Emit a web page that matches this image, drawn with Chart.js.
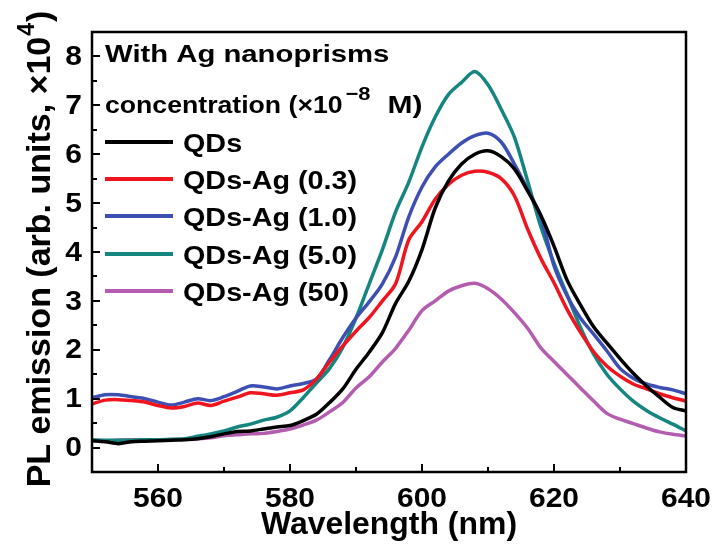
<!DOCTYPE html>
<html>
<head>
<meta charset="utf-8">
<title>PL emission vs wavelength</title>
<script src="https://cdn.jsdelivr.net/npm/chart.js@4/dist/chart.umd.min.js"></script>
<style>
  html, body { margin: 0; padding: 0; background: #fff; }
  #wrap { width: 714px; height: 544px; }
</style>
</head>
<body>
<div id="wrap"><canvas id="pl" width="714" height="544"></canvas></div>
<script>
(function () {
  'use strict';

  // wavelength grid (nm)
  var wavelengths = [550, 552, 554, 556, 558, 560, 562, 564, 566, 568, 570, 572, 574, 576, 578,
    580, 582, 584, 586, 588, 590, 592, 594, 596, 598, 600, 602, 604, 606, 608, 610, 612,
    614, 616, 618, 620, 622, 624, 626, 628, 630, 632, 634, 636, 638, 640];

  // PL emission (x10^4)
  var qdsOnly = [0.14, 0.12, 0.08, 0.12, 0.13, 0.14, 0.15, 0.16, 0.18, 0.22, 0.28, 0.33, 0.34, 0.38, 0.42,
    0.45, 0.55, 0.68, 0.92, 1.20, 1.60, 1.95, 2.35, 2.95, 3.40, 4.05, 4.90, 5.45, 5.80, 6.00, 6.07, 5.95,
    5.70, 5.25, 4.75, 4.12, 3.42, 2.92, 2.47, 2.14, 1.82, 1.52, 1.26, 1.03, 0.82, 0.75];
  var qdsAg03 = [0.89, 0.97, 0.98, 0.96, 0.93, 0.86, 0.81, 0.84, 0.91, 0.86, 0.95, 1.03, 1.12, 1.10, 1.07,
    1.12, 1.18, 1.40, 1.75, 2.08, 2.38, 2.66, 3.00, 3.35, 4.25, 4.62, 5.08, 5.38, 5.57, 5.65, 5.63, 5.50,
    5.15, 4.47, 3.87, 3.37, 2.82, 2.36, 1.96, 1.67, 1.46, 1.30, 1.20, 1.10, 1.02, 0.95];
  var qdsAg10 = [1.02, 1.08, 1.08, 1.04, 1.00, 0.93, 0.87, 0.93, 1.00, 0.96, 1.04, 1.15, 1.26, 1.24, 1.20,
    1.26, 1.31, 1.40, 1.80, 2.25, 2.65, 2.98, 3.35, 3.90, 4.72, 5.33, 5.74, 6.00, 6.23, 6.38, 6.43, 6.25,
    5.80, 5.28, 4.72, 3.72, 3.10, 2.65, 2.32, 1.98, 1.62, 1.42, 1.30, 1.23, 1.18, 1.10];
  var qdsAg50 = [0.16, 0.15, 0.15, 0.15, 0.16, 0.16, 0.17, 0.18, 0.23, 0.28, 0.34, 0.42, 0.48, 0.56, 0.62,
    0.75, 1.02, 1.32, 1.62, 2.05, 2.65, 3.35, 4.05, 4.82, 5.43, 6.15, 6.76, 7.22, 7.47, 7.69, 7.42, 6.92,
    6.35, 5.45, 4.52, 3.77, 3.12, 2.46, 1.91, 1.50, 1.20, 0.95, 0.76, 0.61, 0.48, 0.34];
  var qdsAg500 = [0.14, 0.14, 0.15, 0.16, 0.16, 0.15, 0.16, 0.17, 0.18, 0.20, 0.24, 0.26, 0.28, 0.29, 0.33,
    0.38, 0.46, 0.56, 0.73, 0.92, 1.22, 1.45, 1.75, 2.03, 2.40, 2.80, 3.00, 3.20, 3.31, 3.36, 3.25, 3.04,
    2.76, 2.44, 2.04, 1.76, 1.49, 1.22, 0.95, 0.70, 0.58, 0.49, 0.40, 0.32, 0.27, 0.24];

  var seriesLabels = ['QDs', 'QDs-Ag (0.3)', 'QDs-Ag (1.0)', 'QDs-Ag (5.0)', 'QDs-Ag (50)'];
  var seriesColors = ['#000000', '#f0141e', '#3d4fb2', '#15857f', '#b45caf'];

  var xTicks = [560, 580, 600, 620, 640];
  var xMinorTicks = [570, 590, 610, 630];
  var yTicks = [0, 1, 2, 3, 4, 5, 6, 7, 8];
  var yMinorTicks = [0.5, 1.5, 2.5, 3.5, 4.5, 5.5, 6.5, 7.5];

  var FONT = '"Liberation Sans", Arial, Helvetica, sans-serif';

  function toPoints(values) {
    return values.map(function (v, i) {
      return { x: wavelengths[i], y: v };
    });
  }

  // text drawn with a small horizontal stretch, like the original figure
  function drawText(ctx, text, x, y, align, size, sx) {
    ctx.save();
    ctx.font = 'bold ' + size + 'px ' + FONT;
    ctx.translate(x, y);
    ctx.scale(sx || 1, 1);
    ctx.textAlign = align || 'left';
    ctx.fillText(text, 0, 0);
    var w = ctx.measureText(text).width * (sx || 1);
    ctx.restore();
    return w;
  }

  function textWidth(ctx, text, size, sx) {
    ctx.save();
    ctx.font = 'bold ' + size + 'px ' + FONT;
    var w = ctx.measureText(text).width * (sx || 1);
    ctx.restore();
    return w;
  }

  var frameAndText = {
    id: 'frameAndText',
    afterDraw: function (chart) {
      var ctx = chart.ctx;
      var area = chart.chartArea;
      var xs = chart.scales.x;
      var ys = chart.scales.y;

      ctx.save();
      ctx.fillStyle = '#000';
      ctx.strokeStyle = '#000';

      // frame
      ctx.lineWidth = 2.5;
      ctx.strokeRect(area.left, area.top, area.right - area.left, area.bottom - area.top);

      // inward ticks
      ctx.lineWidth = 2;
      ctx.beginPath();
      xTicks.forEach(function (t) {
        var px = Math.round(xs.getPixelForValue(t));
        ctx.moveTo(px, area.bottom);
        ctx.lineTo(px, area.bottom - 8);
      });
      xMinorTicks.forEach(function (t) {
        var px = Math.round(xs.getPixelForValue(t));
        ctx.moveTo(px, area.bottom);
        ctx.lineTo(px, area.bottom - 5);
      });
      yTicks.forEach(function (t) {
        var py = Math.round(ys.getPixelForValue(t));
        ctx.moveTo(area.left, py);
        ctx.lineTo(area.left + 8, py);
      });
      yMinorTicks.forEach(function (t) {
        var py = Math.round(ys.getPixelForValue(t));
        ctx.moveTo(area.left, py);
        ctx.lineTo(area.left + 5, py);
      });
      ctx.stroke();

      // tick labels
      ctx.textBaseline = 'alphabetic';
      xTicks.forEach(function (t) {
        drawText(ctx, String(t), xs.getPixelForValue(t), area.bottom + 35, 'center', 28, 1.07);
      });
      ctx.textBaseline = 'middle';
      yTicks.forEach(function (t) {
        drawText(ctx, String(t), area.left - 10, ys.getPixelForValue(t) + 1, 'right', 28, 1.07);
      });

      // x title
      ctx.textBaseline = 'alphabetic';
      drawText(ctx, 'Wavelength (nm)', (area.left + area.right) / 2, 534, 'center', 31, 1.03);

      // y title, rotated, with superscript 4
      var yMain = 'PL emission (arb. units, \u00d710';
      var ySup = '4';
      var yEnd = ')';
      var wMain = textWidth(ctx, yMain, 34);
      var wSup = textWidth(ctx, ySup, 23);
      var wEnd = textWidth(ctx, yEnd, 34);
      var total = wMain + wSup + wEnd;
      ctx.save();
      ctx.translate(50, 250);
      ctx.rotate(-Math.PI / 2);
      var start = -total / 2;
      drawText(ctx, yMain, start, 0, 'left', 34);
      drawText(ctx, ySup, start + wMain + 1, -16, 'left', 23);
      drawText(ctx, yEnd, start + wMain + wSup + 2, 0, 'left', 34);
      ctx.restore();

      // legend heading
      var hx = area.left + 13;
      drawText(ctx, 'With Ag nanoprisms', hx, 62, 'left', 24, 1.22);
      var w1 = drawText(ctx, 'concentration (\u00d710', hx, 113, 'left', 24, 1.11);
      var w2 = drawText(ctx, '\u22128', hx + w1 + 3, 100, 'left', 19, 1.15);
      drawText(ctx, 'M)', hx + w1 + w2 + 20, 113, 'left', 24, 1.25);

      // legend rows
      var rowY = [142, 179, 216, 254, 291];
      chart.data.datasets.forEach(function (ds, i) {
        var y = rowY[i];
        ctx.strokeStyle = ds.borderColor;
        ctx.lineWidth = 4;
        ctx.beginPath();
        ctx.moveTo(area.left + 13, y);
        ctx.lineTo(area.left + 81, y);
        ctx.stroke();
        ctx.fillStyle = '#000';
        drawText(ctx, ds.label, area.left + 91, y + 10, 'left', 25, 1.15);
      });

      ctx.restore();
    }
  };

  var series = [qdsOnly, qdsAg03, qdsAg10, qdsAg50, qdsAg500];
  var datasets = series.map(function (values, i) {
    return {
      label: seriesLabels[i],
      data: toPoints(values),
      borderColor: seriesColors[i],
      backgroundColor: seriesColors[i],
      borderWidth: 3.5,
      pointRadius: 0,
      tension: 0.3,
      fill: false
    };
  });

  new Chart(document.getElementById('pl'), {
    type: 'line',
    data: { datasets: datasets },
    options: {
      responsive: false,
      animation: false,
      layout: { padding: { left: 92, right: 28, top: 32, bottom: 72 } },
      plugins: {
        legend: { display: false },
        tooltip: { enabled: false }
      },
      scales: {
        x: { type: 'linear', min: 550, max: 640, display: false },
        y: { type: 'linear', min: -0.5, max: 8.5, display: false }
      }
    },
    plugins: [frameAndText]
  });
})();
</script>
</body>
</html>
